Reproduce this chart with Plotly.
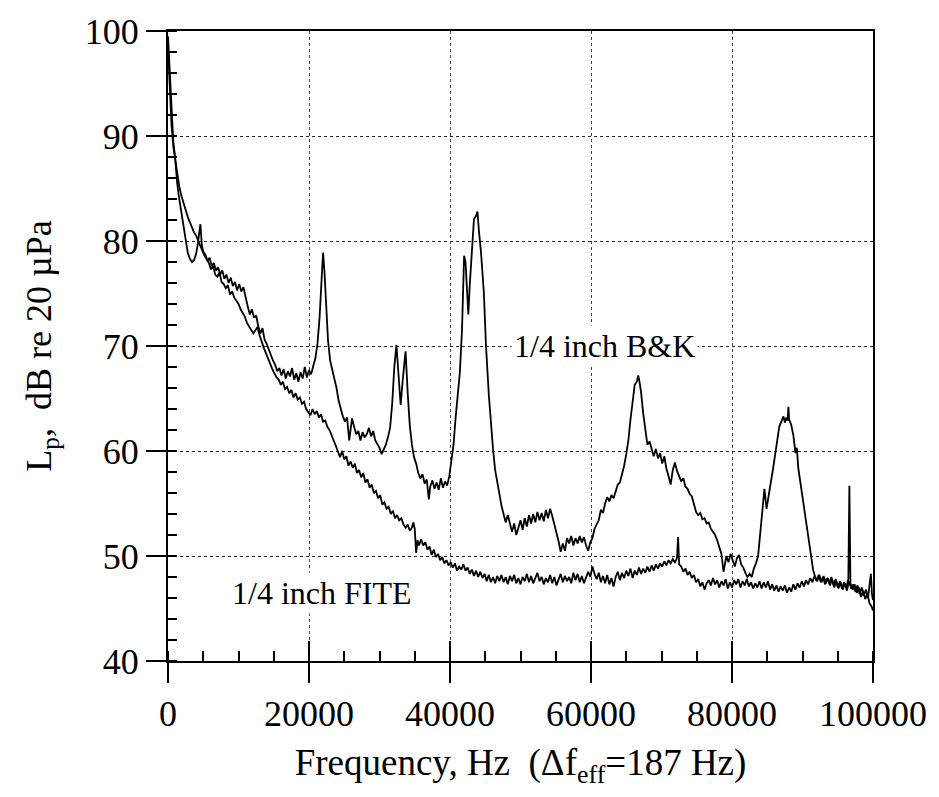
import plotly.graph_objects as go

# ---- 1/4 inch B&K spectrum: [frequency Hz, level dB] ----
bk_points = [
    [0, 99.5], [250, 96.0], [500, 92.0], [750, 89.5], [1000, 88.0], [1300, 85.5],
    [1600, 84.0], [1900, 82.8], [2200, 81.2], [2500, 80.0], [2800, 78.9], [3100, 78.3],
    [3400, 78.0], [3700, 78.2], [4000, 78.8], [4200, 79.6], [4400, 80.6], [4600, 81.6],
    [4800, 79.6], [5000, 79.0], [5300, 78.7], [5600, 78.1], [5900, 78.4], [6200, 77.6],
    [6500, 77.9], [6800, 77.2], [7100, 77.5], [7400, 76.8], [7700, 77.2], [8000, 76.4],
    [8300, 76.8], [8600, 76.0], [8900, 76.5], [9200, 75.7], [9500, 76.1], [9800, 75.3],
    [10100, 75.9], [10400, 75.2], [10700, 75.6], [11000, 74.6], [11300, 73.8], [11600, 73.0],
    [11900, 73.5], [12200, 72.7], [12500, 72.9], [12800, 71.9], [13100, 71.2], [13400, 71.7],
    [13700, 70.6], [14000, 70.2], [14300, 69.6], [14600, 69.0], [14900, 68.6], [15200, 68.2],
    [15500, 67.6], [15800, 67.9], [16100, 67.2], [16400, 67.8], [16700, 66.9], [17000, 67.6],
    [17300, 67.1], [17600, 67.9], [17900, 66.8], [18200, 67.4], [18500, 66.6], [18800, 67.5],
    [19100, 66.9], [19400, 68.0], [19700, 67.0], [20000, 67.7], [20300, 67.3], [20600, 68.1],
    [20900, 68.8], [21200, 70.2], [21500, 72.7], [21800, 76.5], [22000, 78.9], [22200, 77.0],
    [22400, 74.2], [22700, 70.5], [23000, 68.6], [23300, 67.8], [23600, 67.0], [23900, 66.0],
    [24200, 64.8], [24500, 64.0], [24800, 63.3], [25100, 62.8], [25400, 63.2], [25700, 61.0],
    [25900, 62.2], [26100, 63.1], [26400, 62.3], [26700, 61.6], [27000, 61.9], [27300, 61.0],
    [27600, 61.8], [27900, 61.3], [28200, 61.6], [28500, 62.2], [28800, 61.4], [29100, 61.9],
    [29400, 61.0], [29700, 60.7], [30000, 60.3], [30300, 59.7], [30600, 60.2], [30900, 60.6],
    [31200, 61.3], [31500, 62.2], [31800, 64.5], [32100, 68.0], [32400, 70.1], [32700, 67.0],
    [33000, 64.4], [33300, 66.8], [33700, 69.5], [34000, 65.5], [34300, 62.4], [34600, 60.6],
    [34900, 59.4], [35200, 58.8], [35500, 57.9], [35800, 57.4], [36100, 57.8], [36400, 56.9],
    [36700, 57.3], [37000, 55.4], [37200, 56.6], [37500, 57.2], [37800, 56.4], [38100, 57.0],
    [38400, 56.3], [38700, 57.4], [39000, 56.5], [39300, 57.1], [39600, 56.7], [39900, 57.6],
    [40200, 59.0], [40500, 60.6], [40800, 63.2], [41100, 65.2], [41400, 67.5], [41700, 71.5],
    [42000, 78.6], [42200, 78.0], [42400, 75.2], [42600, 73.0], [42800, 75.8], [43000, 77.7],
    [43200, 79.5], [43400, 82.1], [43700, 82.4], [43900, 82.8], [44100, 81.0], [44400, 78.9],
    [44800, 75.1], [45100, 70.1], [45500, 65.4], [45800, 62.4], [46100, 60.2], [46400, 58.2],
    [46700, 57.0], [47000, 56.1], [47300, 54.8], [47600, 54.0], [47900, 53.2], [48200, 53.9],
    [48500, 53.0], [48800, 52.3], [49100, 53.1], [49400, 52.0], [49700, 52.7], [50000, 53.4],
    [50300, 52.5], [50600, 53.6], [50900, 52.8], [51200, 53.9], [51500, 53.1], [51800, 54.0],
    [52100, 53.2], [52400, 54.2], [52700, 53.4], [53000, 54.1], [53300, 53.3], [53600, 54.4],
    [53900, 53.6], [54200, 54.5], [54500, 53.8], [54800, 53.0], [55100, 52.3], [55400, 51.4],
    [55700, 50.4], [56000, 51.2], [56300, 50.5], [56600, 51.7], [56900, 51.2], [57200, 51.9],
    [57500, 51.0], [57800, 51.7], [58100, 51.2], [58400, 51.9], [58700, 51.3], [59000, 51.8],
    [59300, 51.0], [59600, 50.5], [59900, 51.3], [60200, 51.7], [60500, 52.6], [60800, 53.0],
    [61100, 53.4], [61400, 54.4], [61700, 54.1], [62000, 55.0], [62300, 55.6], [62600, 55.2],
    [62900, 55.8], [63200, 55.5], [63500, 56.2], [63800, 56.8], [64100, 57.0], [64400, 57.8],
    [64700, 58.6], [65000, 59.7], [65300, 61.0], [65600, 63.0], [65900, 65.0], [66200, 66.3],
    [66500, 66.6], [66700, 67.2], [66900, 66.5], [67100, 65.6], [67400, 63.6], [67700, 62.0],
    [68000, 60.6], [68300, 60.9], [68600, 60.1], [68900, 59.5], [69200, 60.2], [69500, 59.3],
    [69800, 59.8], [70100, 58.8], [70400, 59.5], [70700, 58.3], [71000, 57.6], [71300, 56.8],
    [71600, 58.2], [71900, 58.9], [72200, 58.1], [72500, 57.5], [72800, 57.1], [73100, 57.4],
    [73400, 56.6], [73700, 56.4], [74000, 55.9], [74300, 55.7], [74600, 55.0], [74900, 54.2],
    [75200, 53.9], [75500, 54.1], [75800, 53.5], [76100, 53.6], [76400, 53.1], [76700, 53.2],
    [77000, 52.6], [77300, 52.3], [77600, 52.0], [77900, 51.5], [78200, 50.9], [78500, 50.2],
    [78800, 48.5], [79000, 49.2], [79200, 50.0], [79500, 49.4], [79800, 50.2], [80100, 49.6],
    [80400, 49.0], [80700, 49.8], [81000, 50.1], [81300, 49.2], [81600, 48.9], [81900, 48.4],
    [82200, 48.0], [82500, 48.3], [82800, 48.0], [83100, 48.8], [83400, 49.3], [83700, 50.0],
    [84000, 52.4], [84300, 54.2], [84600, 56.4], [84900, 54.5], [85200, 56.0], [85500, 57.0],
    [85800, 58.2], [86100, 59.6], [86400, 60.9], [86700, 62.3], [87000, 62.8], [87300, 63.3],
    [87500, 62.7], [87700, 63.2], [87900, 62.9], [88000, 64.2], [88100, 63.0], [88400, 62.5],
    [88700, 61.5], [89000, 59.8], [89200, 60.3], [89400, 58.4], [89700, 57.0], [90000, 55.6],
    [90300, 54.4], [90600, 53.0], [90900, 51.2], [91200, 49.8], [91500, 48.7], [91800, 48.0],
    [92100, 47.6], [92400, 48.2], [92700, 47.5], [93000, 48.1], [93300, 47.4], [93600, 47.9],
    [93900, 47.2], [94200, 47.8], [94500, 47.0], [94800, 47.6], [95100, 46.9], [95400, 47.5],
    [95700, 46.8], [96000, 47.4], [96300, 46.7], [96600, 47.6], [96900, 46.9], [97200, 47.3],
    [97500, 46.6], [97800, 47.2], [98100, 46.4], [98400, 47.0], [98700, 46.2], [99000, 46.8],
    [99300, 46.0], [99500, 47.2], [99700, 48.3], [99850, 46.4], [100000, 45.8],
]

# ---- 1/4 inch FITE spectrum: [frequency Hz, level dB] ----
fite_points = [
    [0, 98.5], [250, 94.5], [500, 91.0], [750, 89.0], [1000, 87.8], [1300, 86.2],
    [1600, 85.2], [1900, 84.3], [2200, 83.6], [2500, 82.9], [2800, 82.3], [3100, 81.8],
    [3400, 81.3], [3700, 80.8], [4000, 80.5], [4300, 80.0], [4600, 79.4], [4900, 79.0],
    [5200, 78.6], [5500, 78.2], [5800, 77.9], [6100, 77.3], [6400, 77.6], [6700, 76.8],
    [7000, 76.6], [7300, 77.0], [7600, 76.1], [7900, 75.9], [8200, 75.5], [8500, 75.8],
    [8800, 74.9], [9100, 75.2], [9400, 74.6], [9700, 74.3], [10000, 74.0], [10300, 73.5],
    [10600, 73.1], [10900, 72.8], [11200, 72.2], [11500, 71.9], [11800, 71.6], [12100, 71.2],
    [12400, 71.5], [12700, 71.8], [13000, 71.0], [13300, 70.3], [13600, 69.8], [13900, 69.3],
    [14200, 68.8], [14500, 68.2], [14800, 67.8], [15100, 67.4], [15400, 67.0], [15700, 66.8],
    [16000, 66.3], [16300, 66.6], [16600, 65.9], [16900, 66.1], [17200, 65.5], [17500, 65.8],
    [17800, 65.1], [18100, 65.5], [18400, 64.9], [18700, 65.1], [19000, 64.5], [19300, 64.7],
    [19600, 64.0], [19900, 63.7], [20200, 63.4], [20500, 64.0], [20800, 63.5], [21100, 63.8],
    [21400, 63.2], [21700, 63.5], [22000, 62.8], [22300, 62.9], [22600, 62.3], [22900, 62.0],
    [23200, 61.4], [23500, 61.0], [23800, 60.5], [24100, 60.0], [24400, 59.4], [24700, 60.0],
    [25000, 59.2], [25300, 59.5], [25600, 58.6], [25900, 59.0], [26200, 58.4], [26500, 58.8],
    [26800, 57.9], [27100, 58.2], [27400, 57.5], [27700, 57.9], [28000, 57.0], [28300, 57.3],
    [28600, 56.5], [28900, 56.8], [29200, 56.0], [29500, 56.2], [29800, 55.5], [30100, 55.8],
    [30400, 54.9], [30700, 55.1], [31000, 54.5], [31300, 54.7], [31600, 54.0], [31900, 54.3],
    [32200, 53.6], [32500, 53.9], [32800, 53.4], [33100, 53.6], [33400, 53.0], [33700, 52.7],
    [34000, 53.0], [34300, 52.4], [34600, 52.7], [34800, 53.2], [35000, 52.6], [35200, 50.3],
    [35400, 51.5], [35600, 51.0], [35900, 51.6], [36200, 51.0], [36500, 51.3], [36800, 50.6],
    [37100, 50.9], [37400, 50.1], [37700, 50.6], [38000, 49.9], [38300, 50.2], [38600, 49.6],
    [38900, 49.9], [39200, 49.3], [39500, 49.6], [39800, 49.1], [40100, 49.4], [40400, 48.9],
    [40700, 49.3], [41000, 48.6], [41300, 49.0], [41600, 48.7], [41900, 49.2], [42200, 48.6],
    [42500, 48.9], [42800, 48.3], [43100, 48.7], [43400, 48.1], [43700, 48.6], [44000, 48.0],
    [44300, 48.5], [44600, 47.9], [44900, 48.3], [45200, 47.6], [45500, 48.2], [45800, 47.5],
    [46100, 48.0], [46400, 47.4], [46700, 48.1], [47000, 47.6], [47300, 48.2], [47600, 47.5],
    [47900, 48.0], [48200, 47.3], [48500, 48.1], [48800, 47.6], [49100, 48.2], [49400, 47.4],
    [49700, 47.9], [50000, 47.3], [50300, 48.0], [50600, 47.6], [50900, 48.3], [51200, 47.5],
    [51500, 48.1], [51800, 47.4], [52100, 47.9], [52400, 48.4], [52700, 47.6], [53000, 48.0],
    [53300, 47.3], [53600, 47.9], [53900, 47.5], [54200, 48.2], [54500, 47.4], [54800, 48.0],
    [55100, 47.2], [55400, 47.8], [55700, 48.3], [56000, 47.5], [56300, 48.1], [56600, 47.6],
    [56900, 48.0], [57200, 47.4], [57500, 48.4], [57800, 47.7], [58100, 48.3], [58400, 47.5],
    [58700, 48.1], [59000, 47.4], [59300, 48.0], [59600, 48.5], [59900, 48.0], [60200, 49.0],
    [60500, 48.3], [60800, 47.8], [61100, 48.4], [61400, 47.5], [61700, 48.1], [62000, 47.4],
    [62300, 48.2], [62600, 47.3], [62900, 47.9], [63200, 47.1], [63500, 48.0], [63800, 48.5],
    [64100, 47.7], [64400, 48.4], [64700, 47.9], [65000, 48.6], [65300, 48.1], [65600, 48.8],
    [65900, 47.9], [66200, 48.6], [66500, 48.2], [66800, 48.9], [67100, 48.3], [67400, 48.8],
    [67700, 48.4], [68000, 49.0], [68300, 48.5], [68600, 49.1], [68900, 48.6], [69200, 49.2],
    [69500, 48.8], [69800, 49.3], [70100, 49.0], [70400, 49.5], [70700, 49.1], [71000, 49.6],
    [71300, 49.3], [71600, 49.7], [71900, 49.4], [72200, 49.8], [72350, 51.8], [72500, 49.2],
    [72800, 49.0], [73100, 48.5], [73400, 48.8], [73700, 48.2], [74000, 48.5], [74300, 47.9],
    [74600, 48.2], [74900, 47.5], [75200, 47.8], [75500, 47.1], [75800, 47.5], [76100, 46.8],
    [76400, 47.4], [76700, 47.7], [77000, 47.2], [77300, 47.9], [77600, 47.3], [77900, 47.7],
    [78200, 47.0], [78500, 47.6], [78800, 47.2], [79100, 47.8], [79400, 46.9], [79700, 47.5],
    [80000, 47.0], [80300, 47.7], [80600, 47.3], [80900, 47.8], [81200, 47.0], [81500, 47.6],
    [81800, 47.2], [82100, 47.8], [82400, 47.1], [82700, 47.5], [83000, 46.9], [83300, 47.4],
    [83600, 47.0], [83900, 47.6], [84200, 46.9], [84500, 47.5], [84800, 47.0], [85100, 47.6],
    [85400, 46.8], [85700, 47.3], [86000, 46.7], [86300, 47.2], [86600, 46.6], [86900, 47.1],
    [87200, 46.7], [87500, 47.2], [87800, 46.5], [88100, 47.0], [88400, 46.6], [88700, 47.3],
    [89000, 46.8], [89300, 47.4], [89600, 47.0], [89900, 47.6], [90200, 47.1], [90500, 47.7],
    [90800, 47.3], [91100, 47.9], [91400, 47.5], [91700, 48.1], [92000, 47.6], [92300, 48.2],
    [92600, 47.5], [92900, 48.0], [93200, 47.3], [93500, 47.9], [93800, 47.4], [94100, 48.0],
    [94400, 47.2], [94700, 47.8], [95000, 47.0], [95300, 47.6], [95600, 46.9], [95900, 47.5],
    [96200, 47.0], [96500, 47.8], [96650, 56.7], [96800, 47.4], [97100, 46.8], [97400, 47.3],
    [97700, 46.5], [98000, 47.0], [98300, 46.1], [98600, 46.7], [98900, 45.9], [99200, 46.4],
    [99500, 45.5], [99800, 45.2], [100000, 44.8],
]

bk_freq = [p[0] for p in bk_points]
bk_level = [p[1] for p in bk_points]
fite_freq = [p[0] for p in fite_points]
fite_level = [p[1] for p in fite_points]

x_ticks = [0, 20000, 40000, 60000, 80000, 100000]
x_tick_labels = ["0", "20000", "40000", "60000", "80000", "100000"]
y_ticks = [40, 50, 60, 70, 80, 90, 100]
y_tick_labels = ["40", "50", "60", "70", "80", "90", "100"]

x_title = "Frequency, Hz  (\u0394f<sub>eff</sub>=187 Hz)"
y_title = "L<sub>p</sub>,  dB re 20 \u00b5Pa"
label_bk = "1/4 inch B&amp;K"
label_fite = "1/4 inch FITE"

FONT = "Liberation Serif"

fig = go.Figure()
fig.add_trace(go.Scatter(x=bk_freq, y=bk_level, mode="lines",
                         line=dict(color="black", width=1.8), name="B&K"))
fig.add_trace(go.Scatter(x=fite_freq, y=fite_level, mode="lines",
                         line=dict(color="black", width=1.8), name="FITE"))
# helper trace to carry the inward major ticks on the frequency axis
fig.add_trace(go.Scatter(x=[None], y=[None], xaxis="x2", showlegend=False,
                         hoverinfo="skip"))

fig.update_layout(
    width=939, height=797,
    margin=dict(l=168, r=64, t=22, b=136),
    plot_bgcolor="white", paper_bgcolor="white",
    showlegend=False,
    font=dict(family=FONT, color="black", size=36),
    xaxis=dict(
        range=[0, 100000], tickvals=x_ticks, ticktext=x_tick_labels,
        ticks="outside", ticklen=20, tickwidth=1.5, tickcolor="black",
        showline=True, mirror=True, linewidth=2, linecolor="black",
        showgrid=True, gridcolor="#444", griddash="dot", gridwidth=1,
        zeroline=False,
        minor=dict(dtick=5000, ticks="inside", ticklen=10, tickwidth=1.5,
                   tickcolor="black", showgrid=False),
        tickfont=dict(size=36, family=FONT, color="black"),
        title=dict(text=x_title, font=dict(size=37, family=FONT, color="black"),
                   standoff=16),
    ),
    xaxis2=dict(
        range=[0, 100000], overlaying="x", anchor="y", side="bottom",
        tickvals=x_ticks, ticks="inside", ticklen=20, tickwidth=1.5,
        tickcolor="black", showticklabels=False, showgrid=False,
        showline=False, zeroline=False,
    ),
    yaxis=dict(
        range=[40, 100], tickvals=y_ticks, ticktext=y_tick_labels,
        ticks="outside", ticklen=20, tickwidth=1.5, tickcolor="black",
        showline=True, mirror=True, linewidth=2, linecolor="black",
        showgrid=True, gridcolor="#222", griddash="dot", gridwidth=1.3,
        zeroline=False,
        minor=dict(dtick=2, ticks="inside", ticklen=9, tickwidth=1.5,
                   tickcolor="black", showgrid=False),
        tickfont=dict(size=36, family=FONT, color="black"),
        title=dict(text=y_title, font=dict(size=36, family=FONT, color="black"),
                   standoff=22),
    ),
    annotations=[
        dict(x=61950, y=70, xref="x", yref="y", text=label_bk, showarrow=False,
             font=dict(size=32, family=FONT, color="black"), bgcolor="white",
             xanchor="center", yanchor="middle", borderpad=2),
        dict(x=21800, y=46.5, xref="x", yref="y", text=label_fite, showarrow=False,
             font=dict(size=32, family=FONT, color="black"), bgcolor="white",
             xanchor="center", yanchor="middle", borderpad=2),
    ],
)

fig.write_html("out.html")
